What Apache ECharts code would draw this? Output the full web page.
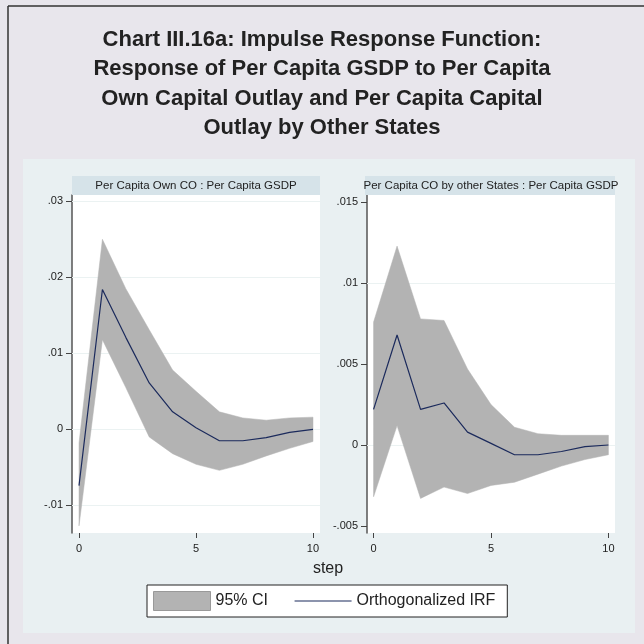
<!DOCTYPE html>
<html>
<head>
<meta charset="utf-8">
<style>
  html, body { margin: 0; padding: 0; background: #e8e6ec; }
  #chart { width: 644px; height: 644px; }
</style>
<script src="https://cdn.jsdelivr.net/npm/echarts@6/dist/echarts.min.js"></script>
</head>
<body>
<div id="chart"></div>
<script>
// Forecast horizon (steps)
var steps = [0, 1, 2, 3, 4, 5, 6, 7, 8, 9, 10];

// Response of per capita GSDP to per capita own capital outlay
var ownIrf   = [-0.0074, 0.0184, 0.0121, 0.0061, 0.0023, 0.0002, -0.0015, -0.0015, -0.0011, -0.0004, 0.0000];
var ownUpper = [-0.0018, 0.0250, 0.0185, 0.0131, 0.0078, 0.0050, 0.0023, 0.0015, 0.0012, 0.0015, 0.0016];
var ownLower = [-0.0127, 0.0118, 0.0055, -0.0010, -0.0032, -0.0046, -0.0054, -0.0046, -0.0035, -0.0025, -0.0016];

// Response of per capita GSDP to per capita capital outlay by other states
var otherIrf   = [0.0022, 0.0068, 0.0022, 0.0026, 0.0008, 0.0001, -0.0006, -0.0006, -0.0004, -0.0001, 0.0000];
var otherUpper = [0.0076, 0.0123, 0.0078, 0.0077, 0.0047, 0.0025, 0.0011, 0.0007, 0.0006, 0.0006, 0.0006];
var otherLower = [-0.0032, 0.0012, -0.0033, -0.0026, -0.0030, -0.0025, -0.0023, -0.0018, -0.0013, -0.0009, -0.0006];

// Tick labels
var stepTicks = [0, 5, 10];
var ownTicks = [-0.01, 0, 0.01, 0.02, 0.03];
var otherTicks = [-0.005, 0, 0.005, 0.01, 0.015];

var panelTitles = ['Per Capita Own CO : Per Capita GSDP', 'Per Capita CO by other States : Per Capita GSDP'];
var chartTitle = 'Chart III.16a: Impulse Response Function:\nResponse of Per Capita GSDP to Per Capita\nOwn Capital Outlay and Per Capita Capital\nOutlay by Other States';

var FONT = '"Liberation Sans", Arial, Helvetica, sans-serif';
var BAND = '#b3b3b3';
var LINE = '#1b2a5c';

function pairs(ys) { return steps.map(function (s, i) { return [s, ys[i]]; }); }
function stataLabel(v) {
  if (Math.abs(v) < 1e-12) return '0';
  return String(+v.toFixed(4)).replace(/^(-?)0\./, '$1.');
}

function xAxisFor(idx, lo, hi) {
  return {
    type: 'value', gridIndex: idx, min: lo, max: hi,
    axisLine: { show: false, onZero: false },
    splitLine: { show: false },
    axisTick: { show: true, length: 5, customValues: stepTicks, lineStyle: { color: '#444', width: 1 } },
    axisLabel: { customValues: stepTicks, margin: 10, fontSize: 11, color: '#222', fontFamily: FONT }
  };
}
function yAxisFor(idx, lo, hi, ticks) {
  return {
    type: 'value', gridIndex: idx, min: lo, max: hi,
    axisLine: { show: true, onZero: false, lineStyle: { color: '#555', width: 1.5 } },
    splitLine: { show: false },
    axisTick: { show: true, length: 6, customValues: ticks, lineStyle: { color: '#444', width: 1 } },
    axisLabel: { customValues: ticks, margin: 9, fontSize: 11, color: '#222', fontFamily: FONT, formatter: stataLabel }
  };
}

// Confidence band: one polygon along the upper bound and back along the lower bound
function bandSeries(idx, up, lo) {
  return {
    name: '95% CI', type: 'custom', xAxisIndex: idx, yAxisIndex: idx,
    data: steps.map(function (s, i) { return [s, lo[i], up[i]]; }),
    encode: { x: 0, y: [1, 2] },
    itemStyle: { color: BAND },
    z: 2,
    renderItem: function (params, api) {
      if (params.dataIndex !== 0) return;
      var pts = [];
      for (var i = 0; i < steps.length; i++) pts.push(api.coord([steps[i], up[i]]));
      for (var j = steps.length - 1; j >= 0; j--) pts.push(api.coord([steps[j], lo[j]]));
      return { type: 'polygon', shape: { points: pts }, style: { fill: BAND, stroke: BAND, lineWidth: 0.5 } };
    }
  };
}
// Faint horizontal rules at the labelled y values, kept beneath the band
function ruleSeries(idx, ticks) {
  return {
    name: 'rules ' + idx, type: 'line', xAxisIndex: idx, yAxisIndex: idx,
    data: [], z: 1, silent: true,
    markLine: {
      z: 1, silent: true, symbol: 'none', animation: false,
      label: { show: false },
      lineStyle: { color: '#ebf2f2', width: 1, type: 'solid' },
      data: ticks.map(function (t) { return { yAxis: t }; })
    }
  };
}
function irfSeries(idx, irf) {
  return {
    name: 'Orthogonalized IRF', type: 'line', xAxisIndex: idx, yAxisIndex: idx,
    data: pairs(irf), symbol: 'none', showSymbol: false,
    lineStyle: { color: LINE, width: 1.2 }, itemStyle: { color: LINE }, z: 3
  };
}

var chart = echarts.init(document.getElementById('chart'), null, { renderer: 'canvas' });
chart.setOption({
  animation: false,
  backgroundColor: '#e8e6ec',
  title: [
    {
      text: chartTitle, left: 322, top: 25, padding: 0, textAlign: 'center',
      textStyle: { fontFamily: FONT, fontSize: 22, fontWeight: 'bold', color: '#222', lineHeight: 29.5, align: 'center' }
    },
    {
      text: 'step', left: 328, top: 561, padding: 0, textAlign: 'center',
      textStyle: { fontFamily: FONT, fontSize: 16, fontWeight: 'normal', color: '#222' }
    }
  ],
  graphic: [
    { type: 'rect', z: -10, shape: { x: 23, y: 159, width: 612, height: 474 }, style: { fill: '#e9f0f2' } },
    { type: 'line', z: 10, shape: { x1: 8, y1: 6, x2: 8, y2: 644 }, style: { stroke: '#333', lineWidth: 1.5 } },
    { type: 'line', z: 10, shape: { x1: 8, y1: 6, x2: 644, y2: 6 }, style: { stroke: '#333', lineWidth: 1.5 } },
    { type: 'rect', z: 10, shape: { x: 72, y: 176, width: 248, height: 19 }, style: { fill: '#d6e3e9' } },
    { type: 'text', z: 11, style: { x: 196, y: 186, text: panelTitles[0], align: 'center', verticalAlign: 'middle', font: '11.5px ' + FONT, fill: '#222' } },
    { type: 'rect', z: 10, shape: { x: 365, y: 176, width: 250, height: 19 }, style: { fill: '#d6e3e9' } },
    { type: 'text', z: 11, style: { x: 491, y: 186, text: panelTitles[1], align: 'center', verticalAlign: 'middle', font: '11.5px ' + FONT, fill: '#222' } }
  ],
  grid: [
    { left: 72, right: 324, top: 195, bottom: 111, show: true, backgroundColor: '#ffffff', borderWidth: 0 },
    { left: 367, right: 29, top: 195, bottom: 111, show: true, backgroundColor: '#ffffff', borderWidth: 0 }
  ],
  xAxis: [xAxisFor(0, -0.3, 10.3), xAxisFor(1, -0.28, 10.28)],
  yAxis: [yAxisFor(0, -0.01364, 0.03083, ownTicks), yAxisFor(1, -0.00544, 0.01546, otherTicks)],
  legend: {
    left: 147, top: 585, orient: 'horizontal',
    padding: [6, 12, 6, 6], itemGap: 26, itemWidth: 57, itemHeight: 19,
    backgroundColor: '#ffffff', borderColor: '#222', borderWidth: 1, borderRadius: 0,
    selectedMode: false,
    textStyle: { fontFamily: FONT, fontSize: 16, color: '#222' },
    data: [
      { name: '95% CI', icon: 'rect', itemStyle: { color: BAND, borderColor: '#999', borderWidth: 1 } },
      { name: 'Orthogonalized IRF', itemStyle: { opacity: 0 }, lineStyle: { color: LINE, width: 1.2 } }
    ]
  },
  series: [
    ruleSeries(0, ownTicks), bandSeries(0, ownUpper, ownLower), irfSeries(0, ownIrf),
    ruleSeries(1, otherTicks), bandSeries(1, otherUpper, otherLower), irfSeries(1, otherIrf)
  ]
});
</script>
</body>
</html>
